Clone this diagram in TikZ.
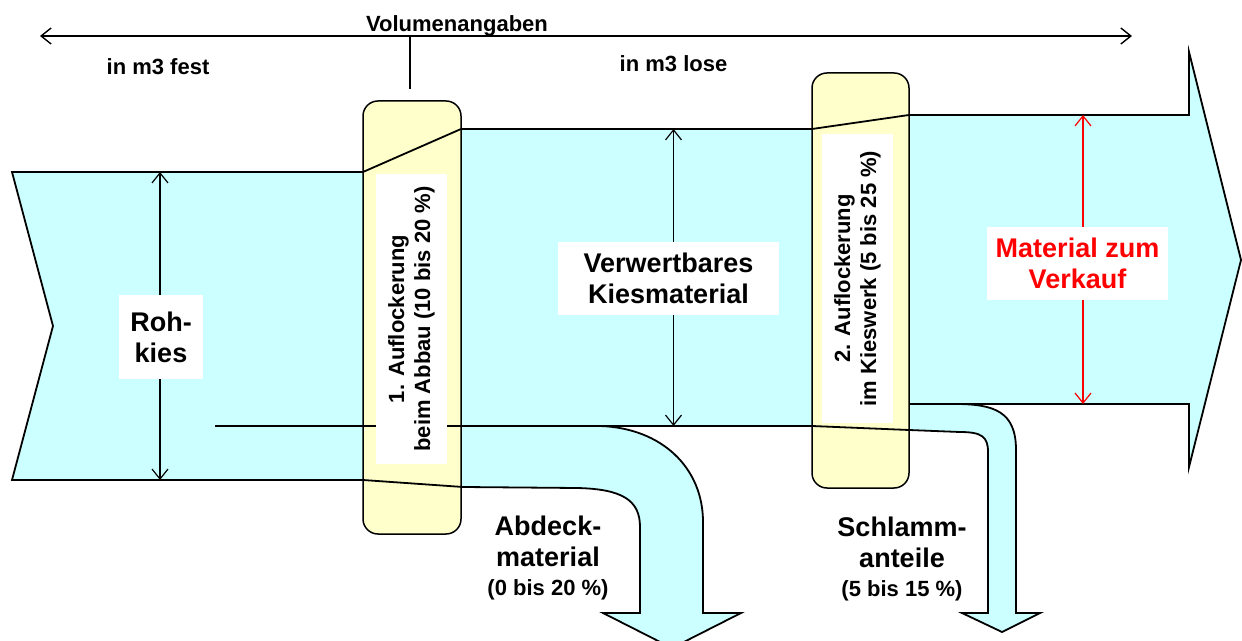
\documentclass[tikz,border=0pt]{standalone}
\usepackage{fontspec}
\setmainfont{Liberation Sans}
\usetikzlibrary{arrows.meta}
\definecolor{flowcyan}{RGB}{204,255,255}
\definecolor{looseyellow}{RGB}{255,255,204}
\newcommand{\lblbig}{\fontsize{13.5}{15.5}\selectfont\bfseries}
\newcommand{\lblsmall}{\fontsize{11}{13}\selectfont\bfseries}

\begin{document}
\begin{tikzpicture}[x=0.5pt,y=-0.5pt,
    >={Straight Barb[length=5pt,width=8pt]},
    flow/.style={fill=flowcyan,draw=black,line width=0.9pt},
    edge/.style={draw=black,line width=0.9pt},
    loosebox/.style={draw=black,fill=looseyellow,rounded corners=7.5pt,line width=0.75pt,inner sep=0pt},
    whitebox/.style={fill=white,inner sep=0pt,align=center},
    measure/.style={<->,line width=0.6pt}]
    \useasboundingbox (0,0) rectangle (1242,641);

    % Define the coordinates of the points
    \coordinate (ra) at (12,172);
    \coordinate (rb) at (363,172);
    \coordinate (ka) at (461,129);
    \coordinate (kb) at (812,129);
    \coordinate (va) at (909,115);
    \coordinate (vb) at (1189,115);
    \coordinate (vc) at (1189,52);
    \coordinate (tip) at (1241,260);
    \coordinate (vd) at (1189,467);
    \coordinate (ve) at (1189,404);
    \coordinate (vf) at (909,404);
    \coordinate (sa) at (909,430);
    \coordinate (sb) at (812,426);
    \coordinate (ab) at (463,487);
    \coordinate (rc) at (363,480);
    \coordinate (rd) at (12,480);
    \coordinate (notch) at (53,326);
    \coordinate (split) at (215,426);

    % the flow of gravel
    \draw[flow] (ra) -- (rb) -- (ka) -- (kb) -- (va) -- (vb) -- (vc) -- (tip) -- (vd) -- (ve)
        -- (955,404) .. controls (995,404) and (1016,412) .. (1016,450)
        -- (1016,613) -- (1040,613) -- (1002,632) -- (962,613) -- (988,613) -- (988,452)
        .. controls (988,437) and (982,432) .. (960,432) -- (sa) -- (sb)
        -- (600,426) .. controls (662,428) and (703,468) .. (703,522)
        -- (703,613) -- (741,613) -- (672,648) -- (603,613) -- (640,613) -- (640,527)
        .. controls (640,500) and (622,489) .. (577,488) -- (ab) -- (rc) -- (rd) -- (notch) -- cycle;

    % loosening zones
    \node[loosebox,minimum width=49pt,minimum height=216.5pt] (zone1) at (412,317.5) {};
    \node[loosebox,minimum width=48.5pt,minimum height=207.5pt] (zone2) at (860.5,280.5) {};
    \draw[edge] (rb) -- (ka);
    \draw[edge] (rc) -- (ab);
    \draw[edge] (kb) -- (va);
    \draw[edge] (sb) -- (sa);
    \draw[edge] (split) -- (sb);
    \draw[edge] (vf) -- (ve);

    % volume scale
    \coordinate (sl) at (40,36);
    \coordinate (sr) at (1132,36);
    \coordinate (st) at (410,37);
    \coordinate (sd) at (410,89);
    \draw[<->,line width=0.7pt] (sl) -- (sr);
    \draw[line width=0.6pt] (st) -- (sd);
    \node[anchor=base,font=\lblsmall] (volumen) at (457,32) {Volumenangaben};
    \node[anchor=base,font=\lblsmall] (fest) at (158,75) {in m3 fest};
    \node[anchor=base,font=\lblsmall] (lose) at (673.5,72) {in m3 lose};

    % heights of the flows
    \coordinate (rt) at (160,172);
    \coordinate (rbot) at (160,480);
    \coordinate (mt) at (673.5,129);
    \coordinate (mbot) at (673.5,426);
    \coordinate (et) at (1083,115);
    \coordinate (ebot) at (1083,404);
    \draw[measure] (rt) -- (rbot);
    \draw[measure] (mt) -- (mbot);
    \draw[measure,red] (et) -- (ebot);

    \node[whitebox,font=\lblbig,minimum width=42pt,minimum height=42pt] (rohkies) at (161,337) {Roh-\\kies};
    \node[whitebox,font=\lblbig,minimum width=110.5pt,minimum height=36.5pt] (kiesmat) at (668.5,278.5) {Verwertbares\\Kiesmaterial};
    \node[whitebox,font=\lblbig,text=red,minimum width=90.5pt,minimum height=36.5pt] (verkauf) at (1077.5,263.5) {Material zum\\Verkauf};

    \node[whitebox,font=\lblsmall,rotate=90,minimum width=145pt,minimum height=35.5pt] (auf1) at (411.5,319) {1. Auflockerung\\beim Abbau (10 bis 20 \%)};
    \node[whitebox,font=\lblsmall,rotate=90,minimum width=144.5pt,minimum height=35.5pt] (auf2) at (857.5,278.5) {2. Auflockerung\\im Kieswerk (5 bis 25 \%)};

    % side streams
    \node[align=center,font=\lblbig] (abdeck) at (548,558) {Abdeck-\\material\\[-1pt]{\lblsmall (0 bis 20 \%)}};
    \node[align=center,font=\lblbig] (schlamm) at (902,559) {Schlamm-\\anteile\\[-1pt]{\lblsmall (5 bis 15 \%)}};

\end{tikzpicture}
\end{document}
